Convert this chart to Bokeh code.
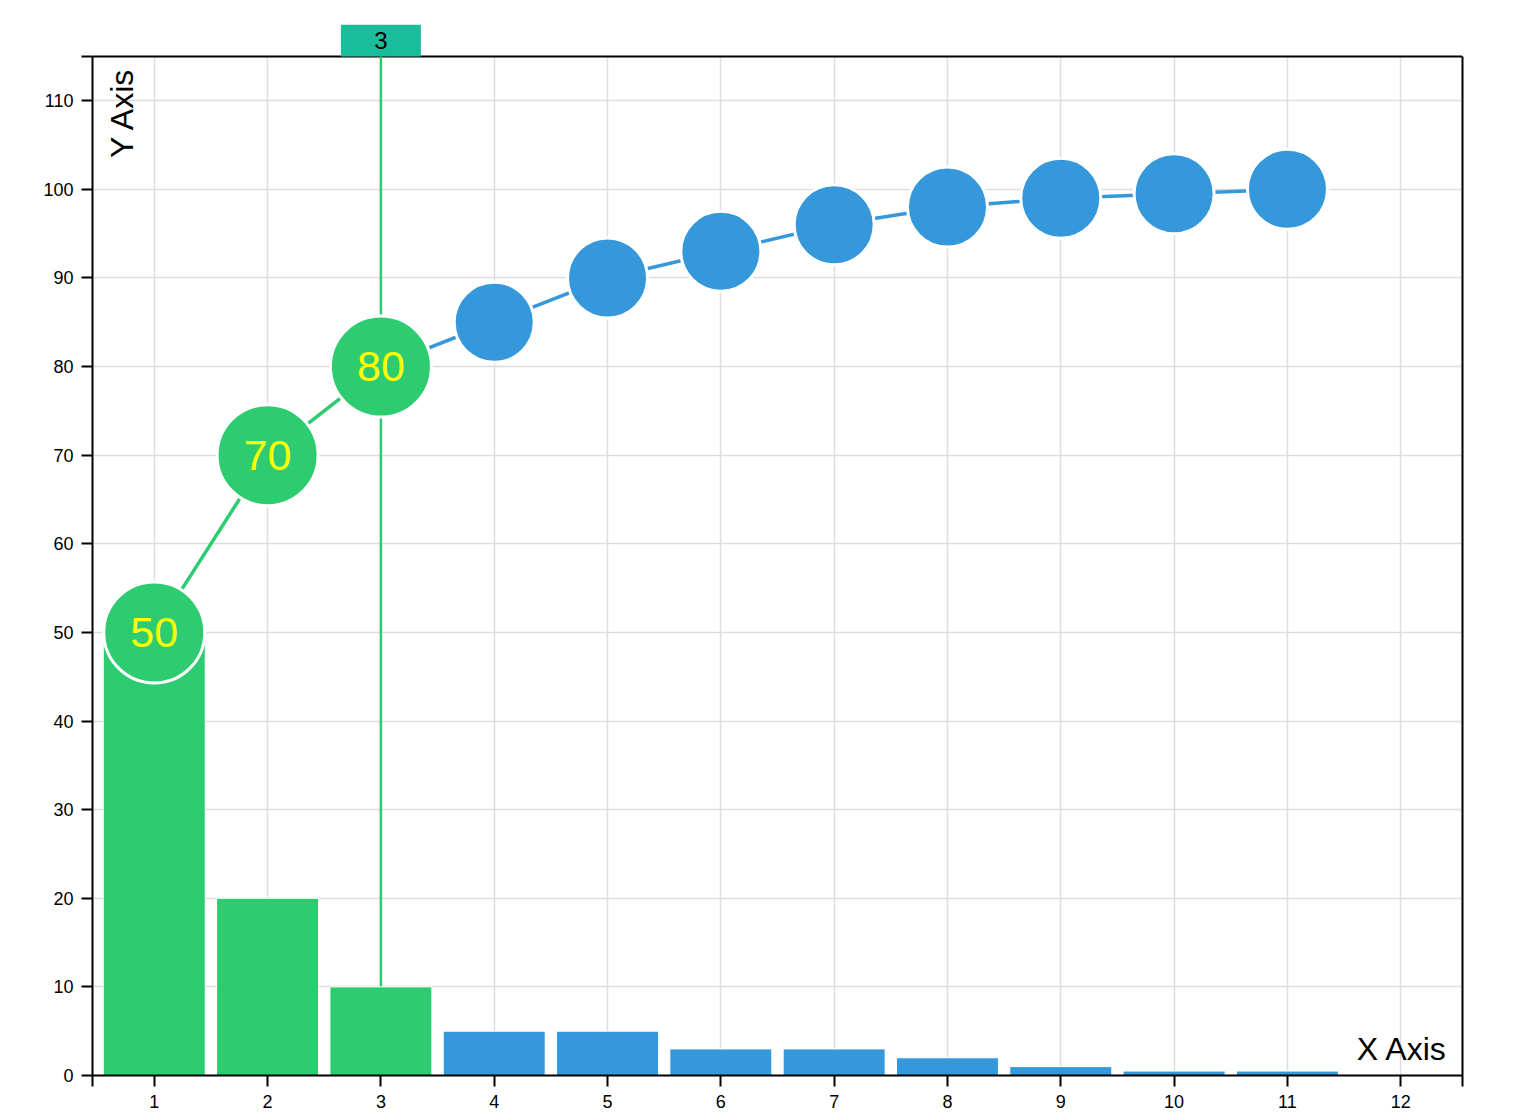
from bokeh.plotting import figure
from bokeh.models import Range1d, FixedTicker, CustomJSTickFormatter, Label, LinearAxis
from bokeh.core.properties import value
from bokeh.embed import file_html
from bokeh.resources import INLINE

# Pareto data: counts per category and the running total
categories = [1, 2, 3, 4, 5, 6, 7, 8, 9, 10, 11]
counts = [50, 20, 10, 5, 5, 3, 3, 2, 1, 0.5, 0.5]
cumulative = [50, 70, 80, 85, 90, 93, 96, 98, 99, 99.5, 100]
selected = 3  # categories up to this one are highlighted

x_ticks = [1, 2, 3, 4, 5, 6, 7, 8, 9, 10, 11, 12]
y_ticks = [0, 10, 20, 30, 40, 50, 60, 70, 80, 90, 100, 110]

GREEN = "#2ecc71"
BLUE = "#3498db"
TEAL = "#1abc9c"
FONT = "Liberation Sans"

x_start, x_end = 0.455, 12.545
y_start, y_end = 0, 115
y_top = 118.6  # room above the plot for the selection tag

p = figure(width=1492, height=1113,
           x_range=Range1d(x_start, x_end), y_range=Range1d(y_start, y_top),
           output_backend="svg", toolbar_location=None,
           min_border_left=92, min_border_right=30,
           min_border_top=24, min_border_bottom=38)
p.outline_line_color = None

# axes, with the outer ticks at the ends of the domain
p.xaxis.ticker = FixedTicker(ticks=[x_start] + x_ticks + [x_end])
p.xaxis.formatter = CustomJSTickFormatter(code="return Number.isInteger(tick) ? String(tick) : ''")
p.yaxis.ticker = FixedTicker(ticks=y_ticks + [y_end])
p.yaxis.formatter = CustomJSTickFormatter(args=dict(end=y_end),
                                          code="return tick == end ? '' : String(tick)")
p.yaxis.bounds = (y_start, y_end)
for ax in (p.xaxis, p.yaxis):
    ax.axis_line_width = 2
    ax.major_tick_line_width = 2
    ax.major_tick_out = 11
    ax.major_tick_in = 0
    ax.minor_tick_line_color = None
    ax.major_label_text_font = FONT
    ax.major_label_text_font_size = "18px"
    ax.major_label_text_color = "black"
p.xaxis.major_label_standoff = 8
p.yaxis.major_label_standoff = 8

right = LinearAxis(ticker=FixedTicker(ticks=[]), bounds=(y_start, y_end),
                   axis_line_width=2, major_tick_out=0, major_tick_in=0,
                   minor_tick_line_color=None, major_label_text_font_size="0px")
p.add_layout(right, "right")

p.xgrid.ticker = FixedTicker(ticks=x_ticks)
p.ygrid.ticker = FixedTicker(ticks=y_ticks)
p.grid.grid_line_color = "#dddddd"
p.grid.grid_line_width = 1.5

colors = [GREEN if c <= selected else BLUE for c in categories]
sizes = [101 if c <= selected else 80 for c in categories]

# blank band above the plot, its top border and the selection tag
p.quad(left=[x_start], right=[x_end], bottom=[y_end], top=[y_top],
       fill_color="white", line_color=None)
p.segment(x0=[x_start], y0=[y_end], x1=[x_end], y1=[y_end],
          line_color="black", line_width=2)

# marker line of the selected category
p.segment(x0=[selected], y0=[counts[selected - 1]], x1=[selected], y1=[y_end],
          line_color=GREEN, line_width=2.5)

p.rect(x=[selected], y=[(y_end + y_top) / 2], width=80, width_units="screen",
       height=y_top - y_end, fill_color=TEAL, line_color=None)
p.text(x=[selected], y=[(y_end + y_top) / 2], text=[str(selected)],
       text_color="black", text_font=value(FONT), text_font_size="24px",
       text_align="center", text_baseline="middle")

p.vbar(x=categories, top=counts, width=0.9, fill_color=colors,
       line_color="white", line_width=1)

p.line(categories[:selected], cumulative[:selected], line_color=GREEN, line_width=3.5)
p.line(categories[selected - 1:], cumulative[selected - 1:], line_color=BLUE, line_width=3.5)

p.scatter(categories, cumulative, size=sizes, fill_color=colors,
          line_color="white", line_width=3)

p.text(x=categories[:selected], y=cumulative[:selected],
       text=[str(v) for v in cumulative[:selected]],
       text_color="#ffff00", text_font=value(FONT), text_font_size="43px",
       text_align="center", text_baseline="middle")

p.add_layout(Label(x=x_start, y=y_end, x_offset=29, y_offset=-11, text="Y Axis",
                   angle=90, angle_units="deg", text_align="right",
                   text_baseline="alphabetic", text_font=FONT,
                   text_font_size="32px", text_color="black"))
p.add_layout(Label(x=x_end, y=y_start, x_offset=-15, y_offset=27, text="X Axis",
                   text_align="right", text_baseline="alphabetic", text_font=FONT,
                   text_font_size="32px", text_color="black"))

open("out.html", "w").write(file_html(p, INLINE))
